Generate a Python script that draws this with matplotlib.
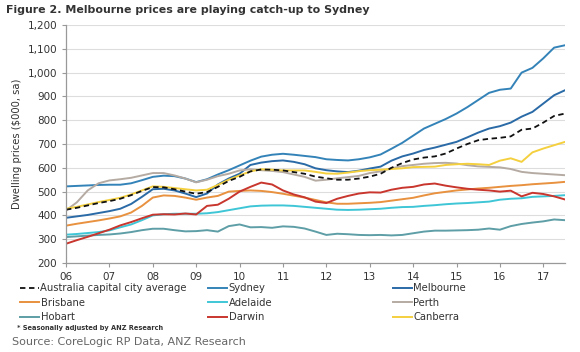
""" Melbourne prices are playing catch-up to Sydney """

import matplotlib
matplotlib.use('Agg')
import matplotlib.pyplot as plt
from matplotlib.ticker import FuncFormatter
import numpy as np

# quarterly points, 2006 Q1 .. mid-2017
years = np.arange(2006.0, 2017.51, 0.25)

sydney = [522, 524, 526, 528, 529, 529, 535, 548, 562, 567, 565, 555,
          540, 552, 572, 590, 610, 630, 647, 655, 659, 655, 650, 645,
          636, 633, 631, 636, 644, 656, 680, 705, 735, 765, 785, 805,
          828, 855, 885, 915, 928, 933, 1000, 1020, 1060, 1105, 1115]
melbourne = [390, 396, 402, 410, 418, 428, 448, 478, 510, 512, 505, 492,
             477, 492, 530, 555, 575, 612, 622, 628, 631, 625, 615, 598,
             590, 585, 582, 588, 597, 605, 630, 648, 660, 675, 685, 697,
             709, 728, 748, 765, 775, 790, 815, 835, 870, 905, 926]
average = [424, 432, 442, 452, 460, 470, 485, 503, 519, 518, 510, 500,
           491, 498, 520, 545, 562, 585, 593, 592, 589, 582, 575, 563,
           556, 550, 550, 555, 563, 575, 600, 620, 635, 643, 648, 660,
           681, 700, 716, 722, 726, 732, 760, 765, 790, 818, 828]
brisbane = [357, 365, 372, 379, 387, 396, 412, 440, 475, 484, 482, 475,
            466, 475, 482, 500, 503, 505, 503, 498, 491, 483, 475, 465,
            455, 449, 449, 451, 453, 456, 462, 468, 474, 484, 493, 499,
            505, 509, 513, 516, 520, 524, 527, 531, 534, 537, 541]
adelaide = [319, 322, 326, 330, 337, 350, 362, 380, 400, 405, 407, 407,
            407, 409, 414, 422, 430, 438, 441, 442, 442, 440, 436, 432,
            428, 424, 423, 424, 426, 428, 432, 435, 436, 440, 443, 447,
            450, 452, 455, 458, 466, 470, 472, 478, 480, 482, 485]
perth = [421, 455, 505, 535, 547, 552, 558, 568, 578, 578, 568, 555,
         539, 550, 565, 575, 589, 594, 590, 587, 582, 572, 562, 546,
         550, 556, 561, 566, 578, 585, 598, 607, 612, 617, 620, 621,
         618, 611, 606, 604, 602, 595, 583, 578, 575, 572, 569]
hobart = [309, 312, 315, 318, 320, 324, 330, 338, 344, 344, 338, 333,
          334, 338, 332, 355, 362, 350, 351, 348, 354, 352, 345, 332,
          318, 323, 321, 318, 317, 318, 316, 318, 325, 332, 336, 336,
          337, 338, 340, 345, 340, 355, 364, 370, 375, 383, 380]
darwin = [281, 296, 310, 325, 340, 358, 372, 388, 403, 405, 404, 408,
          404, 440, 445, 470, 500, 520, 538, 530, 505, 488, 476, 458,
          452, 470, 482, 492, 497, 496, 508, 516, 520, 530, 534, 525,
          518, 512, 508, 505, 500, 504, 480, 495, 490, 480, 467]
canberra = [428, 436, 446, 456, 465, 474, 488, 505, 522, 520, 515, 510,
            505, 508, 528, 550, 568, 585, 594, 592, 589, 589, 589, 583,
            576, 575, 580, 586, 590, 592, 595, 598, 603, 604, 605, 612,
            615, 617, 615, 612, 630, 640, 625, 665, 681, 695, 709]

tick_years = list(range(2006, 2018))
tick_labels = ['06', '07', '08', '09', '10', '11', '12', '13', '14', '15', '16', '17']

fig = plt.figure(figsize=(5.8, 3.52), dpi=100)
ax = fig.add_axes([0.1138, 0.2528, 0.8603, 0.6761])

lw = 1.4
l_syd, = ax.plot(years, sydney, color='#3483B8', lw=lw)
l_mel, = ax.plot(years, melbourne, color='#2A6AA6', lw=lw)
l_per, = ax.plot(years, perth, color='#B5ABA3', lw=lw)
l_bri, = ax.plot(years, brisbane, color='#E8913F', lw=lw)
l_ade, = ax.plot(years, adelaide, color='#3FC6D6', lw=lw)
l_hob, = ax.plot(years, hobart, color='#5E9EA6', lw=lw)
l_dar, = ax.plot(years, darwin, color='#C8362E', lw=lw)
l_can, = ax.plot(years, canberra, color='#F4D03F', lw=lw)
l_avg, = ax.plot(years, average, color='#111111', lw=1.3, ls=(0, (3, 2)))

ax.set_xlim(2006, 2017.5)
ax.set_ylim(200, 1200)
ax.set_xticks(tick_years)
ax.set_xticklabels(tick_labels)
ax.set_yticks(range(200, 1201, 100))
ax.yaxis.set_major_formatter(FuncFormatter(lambda v, p: f'{int(v):,}'))
ax.tick_params(labelsize=7.5, colors='#333333', length=3, width=0.8)
ax.tick_params(axis='both', color='#999999')
ax.grid(axis='y', color='#dddddd', lw=0.8)
ax.set_axisbelow(True)
for s in ['top', 'right']:
    ax.spines[s].set_visible(False)
for s in ['left', 'bottom']:
    ax.spines[s].set_color('#999999')
    ax.spines[s].set_linewidth(0.9)
ax.set_ylabel('Dwelling prices ($000, sa)', fontsize=7.2, color='#333333', labelpad=4)

fig.text(0.01, 0.972, 'Figure 2. Melbourne prices are playing catch-up to Sydney',
         fontsize=7.9, fontweight='bold', color='#333333', va='center')

# legend in three separate columns
cols = [
    ([l_avg, l_bri, l_hob], ['Australia capital city average', 'Brisbane', 'Hobart'], 20),
    ([l_syd, l_ade, l_dar], ['Sydney', 'Adelaide', 'Darwin'], 208),
    ([l_mel, l_per, l_can], ['Melbourne', 'Perth', 'Canberra'], 393),
]
for hs, labs, x in cols:
    fig.legend(hs, labs, loc='upper left', bbox_to_anchor=(x / 580, 1 - 283 / 352),
               frameon=False, fontsize=7.2, handlelength=1.9, handletextpad=0.15,
               borderpad=0, borderaxespad=0, labelspacing=0.45, labelcolor='#333333')

fig.text(17 / 580, 1 - 328 / 352, '* Seasonally adjusted by ANZ Research',
         fontsize=4.8, fontweight='bold', color='#333333', va='center')
fig.text(12 / 580, 1 - 342 / 352, 'Source: CoreLogic RP Data, ANZ Research',
         fontsize=8, color='#666666', va='center')

fig.savefig('out.png', dpi=100)
